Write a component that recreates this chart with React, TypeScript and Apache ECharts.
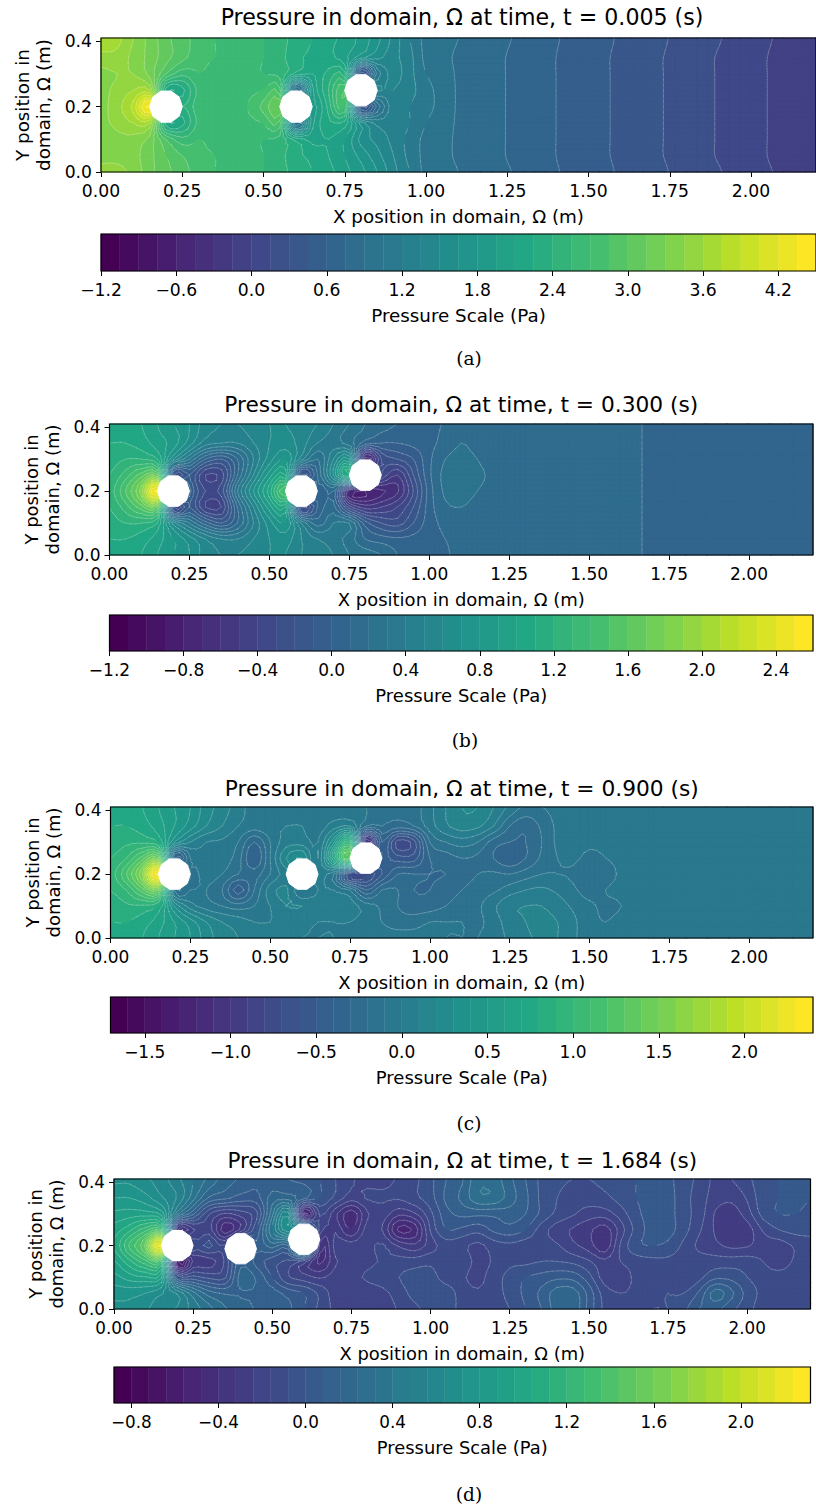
import React, { useEffect, useRef } from "react";
import * as echarts from "echarts";

const X_TICKS = [0, 0.25, 0.5, 0.75, 1, 1.25, 1.5, 1.75, 2];
const Y_TICKS = [0, 0.2, 0.4];
const Y_NODES = [0, 0.05, 0.1, 0.15, 0.2, 0.25, 0.3, 0.35, 0.41];

const X_NODES_A = [0, 0.05, 0.1, 0.15, 0.2, 0.25, 0.3, 0.35, 0.4, 0.45, 0.5, 0.55, 0.6, 0.65, 0.7, 0.75, 0.8, 0.85, 0.9, 0.95, 1, 1.1, 1.2, 1.3, 1.4, 1.5, 1.6, 1.7, 1.8, 1.9, 2, 2.1, 2.2];
const FAR_A = [0.88, 0.79, 0.7, 0.6, 0.51, 0.42, 0.33, 0.23, 0.14, 0.05, -0.05, -0.14];
const FAR_A_EDGE = [0.9, 0.8, 0.72, 0.61, 0.53, 0.43, 0.35, 0.24, 0.16, 0.06, -0.03, -0.13];
const PRESSURE_A = [
  [3.5, 3.5, 3.4, 3.2, 3.05, 2.9, 2.8, 2.7, 2.65, 2.6, 2.55, 2.45, 2.35, 2.25, 2.15, 2.0, 1.85, 1.65, 1.4, 1.2, 1.0, ...FAR_A_EDGE],
  [3.4, 3.4, 3.35, 3.2, 3.0, 2.85, 2.75, 2.7, 2.65, 2.6, 2.55, 2.45, 2.3, 2.2, 2.1, 1.95, 1.75, 1.55, 1.35, 1.15, 1.0, ...FAR_A],
  [3.35, 3.4, 3.4, 3.25, 2.85, 2.6, 2.7, 2.65, 2.65, 2.6, 2.55, 2.5, 2.2, 2.05, 2.1, 1.95, 1.6, 1.45, 1.3, 1.15, 1.0, ...FAR_A],
  [3.4, 3.5, 3.6, 3.6, 2.2, 2.2, 2.6, 2.65, 2.65, 2.65, 2.7, 2.8, 0.9, 1.9, 2.2, 2.2, 1.6, 1.3, 1.3, 1.2, 1.05, ...FAR_A],
  [3.4, 3.55, 3.8, 4.4, 3.0, 2.4, 2.65, 2.65, 2.65, 2.7, 2.9, 3.15, 2.5, 1.9, 2.3, 2.7, 0.3, 0.8, 1.3, 1.2, 1.1, ...FAR_A],
  [3.4, 3.5, 3.6, 3.6, 2.2, 2.2, 2.6, 2.65, 2.65, 2.65, 2.7, 2.75, 0.7, 1.9, 2.4, 2.85, 2.0, 1.4, 1.35, 1.25, 1.1, ...FAR_A],
  [3.4, 3.45, 3.45, 3.25, 2.85, 2.6, 2.7, 2.65, 2.65, 2.6, 2.55, 2.5, 2.2, 2.1, 2.3, 2.3, 0.2, 1.1, 1.4, 1.25, 1.05, ...FAR_A],
  [3.55, 3.55, 3.4, 3.25, 3.05, 2.9, 2.75, 2.7, 2.65, 2.6, 2.55, 2.45, 2.3, 2.2, 2.15, 2.0, 1.7, 1.55, 1.4, 1.25, 1.0, ...FAR_A],
  [3.7, 3.65, 3.45, 3.25, 3.05, 2.9, 2.8, 2.7, 2.65, 2.6, 2.55, 2.45, 2.35, 2.25, 2.15, 2.05, 1.9, 1.7, 1.45, 1.2, 1.0, ...FAR_A_EDGE],
];

const X_NODES_B = [0, 0.05, 0.1, 0.15, 0.2, 0.25, 0.3, 0.35, 0.4, 0.45, 0.5, 0.55, 0.6, 0.65, 0.7, 0.75, 0.8, 0.85, 0.9, 0.95, 1, 1.05, 1.1, 1.15, 1.2, 1.25, 1.3, 1.4, 1.5, 1.6, 1.65, 1.7, 1.8, 2, 2.2];
const FAR_B = [0.15, 0.15, 0.14, 0.12, 0.05, 0.04, 0.04, 0.04];
const PRESSURE_B = [
  [1.05, 1.05, 1.0, 0.9, 0.8, 0.7, 0.55, 0.5, 0.5, 0.55, 0.6, 0.6, 0.5, 0.45, 0.4, 0.3, 0.25, 0.2, 0.1, 0.05, 0.05, 0.09, 0.12, 0.13, 0.14, 0.15, 0.15, ...FAR_B],
  [1.1, 1.1, 1.05, 0.95, 0.8, 0.65, 0.5, 0.4, 0.4, 0.5, 0.6, 0.65, 0.5, 0.4, 0.35, 0.25, 0.1, 0.05, 0.02, 0.03, 0.06, 0.1, 0.13, 0.14, 0.15, 0.15, 0.15, ...FAR_B],
  [1.15, 1.2, 1.2, 1.1, 0.55, 0.3, 0.05, -0.1, 0.1, 0.4, 0.65, 0.8, 0.4, 0.15, 0.3, 0.3, -0.05, -0.2, -0.25, -0.1, 0.05, 0.13, 0.16, 0.16, 0.16, 0.15, 0.15, ...FAR_B],
  [1.2, 1.35, 1.55, 1.6, -0.3, -0.1, -0.4, -0.4, 0.1, 0.5, 0.85, 1.0, -0.3, 0.0, 0.15, -0.35, -0.55, -0.5, -0.4, -0.2, 0.05, 0.18, 0.2, 0.17, 0.16, 0.15, 0.15, ...FAR_B],
  [1.25, 1.5, 1.85, 2.55, 1.0, 0.05, -0.3, -0.25, 0.3, 0.7, 1.05, 1.5, 1.0, 0.05, 0.1, -0.7, -0.8, -0.72, -0.62, -0.3, 0.05, 0.22, 0.24, 0.2, 0.17, 0.15, 0.15, ...FAR_B],
  [1.2, 1.35, 1.55, 1.6, -0.2, -0.1, -0.4, -0.35, 0.1, 0.5, 0.85, 1.0, -0.2, 0.1, 0.6, 1.1, 0.0, -0.3, -0.5, -0.2, 0.08, 0.23, 0.25, 0.22, 0.18, 0.15, 0.15, ...FAR_B],
  [1.15, 1.2, 1.2, 1.1, 0.6, 0.3, 0.0, -0.1, 0.1, 0.4, 0.65, 0.8, 0.45, 0.2, 0.5, 0.7, -0.75, -0.3, -0.2, -0.1, 0.08, 0.2, 0.23, 0.2, 0.16, 0.15, 0.15, ...FAR_B],
  [1.1, 1.1, 1.05, 0.95, 0.85, 0.65, 0.45, 0.4, 0.4, 0.5, 0.6, 0.65, 0.55, 0.4, 0.35, 0.25, 0.05, 0.0, 0.0, 0.03, 0.07, 0.14, 0.2, 0.17, 0.16, 0.15, 0.15, ...FAR_B],
  [1.05, 1.05, 1.0, 0.9, 0.8, 0.7, 0.55, 0.5, 0.5, 0.55, 0.6, 0.6, 0.55, 0.5, 0.4, 0.3, 0.2, 0.15, 0.1, 0.08, 0.08, 0.11, 0.17, 0.15, 0.14, 0.14, 0.14, ...FAR_B],
];

const X_NODES_C = [0, 0.05, 0.1, 0.15, 0.2, 0.25, 0.3, 0.35, 0.4, 0.45, 0.5, 0.55, 0.6, 0.65, 0.7, 0.75, 0.8, 0.85, 0.9, 0.95, 1, 1.05, 1.1, 1.15, 1.2, 1.25, 1.3, 1.35, 1.4, 1.45, 1.5, 1.55, 1.6, 1.65, 1.7, 1.8, 2, 2.2];
const PRESSURE_C = [
  [0.75, 0.75, 0.7, 0.6, 0.5, 0.4, 0.25, 0.15, 0.1, 0.05, 0.05, 0.02, 0.0, 0.0, 0.0, -0.05, -0.05, -0.05, -0.05, -0.05, -0.05, -0.1, -0.1, -0.1, -0.05, 0.02, 0.08, 0.12, 0.1, 0.02, -0.07, -0.09, -0.07, -0.05, -0.05, -0.05, -0.05, -0.05],
  [0.8, 0.8, 0.75, 0.65, 0.5, 0.35, 0.2, 0.1, 0.05, 0.0, 0.0, 0.02, 0.02, 0.0, 0.0, 0.0, -0.05, -0.1, -0.15, -0.15, -0.1, -0.1, -0.1, -0.12, -0.05, 0.05, 0.1, 0.13, 0.1, 0.02, -0.07, -0.1, -0.07, -0.05, -0.05, -0.05, -0.05, -0.05],
  [0.85, 0.88, 0.88, 0.8, 0.3, 0.05, -0.05, -0.1, -0.15, -0.1, 0.0, 0.1, 0.1, 0.05, 0.05, 0.05, -0.05, -0.12, -0.2, -0.25, -0.25, -0.2, -0.15, -0.12, -0.02, 0.08, 0.1, 0.1, 0.05, -0.02, -0.08, -0.12, -0.1, -0.05, -0.05, -0.05, -0.05, -0.05],
  [0.9, 1.0, 1.25, 1.4, -0.1, -0.1, -0.1, -0.2, -0.45, -0.2, 0.05, 0.12, -0.1, 0.0, 0.0, -0.1, -0.4, -0.2, -0.2, -0.3, -0.3, -0.25, -0.2, -0.15, -0.12, -0.05, 0.0, 0.02, -0.02, -0.08, -0.15, -0.1, -0.07, -0.05, -0.05, -0.05, -0.05, -0.05],
  [0.95, 1.2, 1.6, 2.35, 0.5, -0.1, -0.05, -0.1, -0.2, -0.25, -0.1, 0.05, 0.1, 0.05, -0.1, -0.7, -0.7, -0.5, -0.3, -0.3, -0.3, -0.3, -0.25, -0.2, -0.18, -0.2, -0.15, -0.1, -0.1, -0.12, -0.2, -0.15, -0.08, -0.05, -0.05, -0.05, -0.05, -0.05],
  [0.9, 1.0, 1.25, 1.4, -0.4, -0.1, 0.0, -0.05, -0.15, -0.4, -0.1, 0.2, 0.3, 0.0, 0.7, 1.3, 0.0, -0.4, -0.55, -0.55, -0.3, -0.25, -0.2, -0.22, -0.3, -0.38, -0.3, -0.18, -0.1, -0.08, -0.13, -0.1, -0.07, -0.05, -0.05, -0.05, -0.05, -0.05],
  [0.85, 0.88, 0.88, 0.8, 0.3, 0.1, 0.0, -0.02, -0.1, -0.3, -0.1, 0.05, 0.05, 0.0, 0.4, 0.9, -1.1, -0.4, -0.75, -0.65, -0.2, -0.1, -0.05, -0.1, -0.25, -0.3, -0.3, -0.2, -0.08, -0.07, -0.08, -0.08, -0.06, -0.05, -0.05, -0.05, -0.05, -0.05],
  [0.8, 0.8, 0.75, 0.65, 0.5, 0.35, 0.2, 0.1, 0.0, -0.05, -0.02, 0.0, 0.0, -0.05, 0.05, 0.1, -0.2, -0.2, -0.25, -0.2, -0.05, 0.08, 0.15, 0.12, 0.0, -0.2, -0.28, -0.18, -0.08, -0.07, -0.07, -0.07, -0.06, -0.05, -0.05, -0.05, -0.05, -0.05],
  [0.75, 0.75, 0.7, 0.6, 0.5, 0.4, 0.25, 0.15, 0.05, -0.05, -0.05, -0.05, -0.05, -0.05, -0.05, -0.05, -0.1, -0.15, -0.2, -0.15, -0.03, 0.1, 0.2, 0.2, 0.1, -0.02, -0.12, -0.1, -0.07, -0.06, -0.05, -0.05, -0.05, -0.05, -0.05, -0.05, -0.05, -0.05],
];

const X_NODES_D = [0, 0.05, 0.1, 0.15, 0.2, 0.25, 0.3, 0.35, 0.4, 0.45, 0.5, 0.55, 0.6, 0.65, 0.7, 0.75, 0.8, 0.85, 0.9, 0.95, 1, 1.05, 1.1, 1.15, 1.2, 1.25, 1.3, 1.35, 1.4, 1.45, 1.5, 1.55, 1.6, 1.65, 1.7, 1.75, 1.8, 1.85, 1.9, 1.95, 2, 2.05, 2.1, 2.15, 2.2];
const PRESSURE_D = [
  [0.7, 0.7, 0.65, 0.6, 0.55, 0.45, 0.35, 0.25, 0.2, 0.15, 0.12, 0.1, 0.0, -0.1, -0.18, -0.2, -0.2, -0.2, -0.15, -0.1, -0.05, -0.05, -0.1, -0.12, -0.12, -0.08, 0.0, 0.08, 0.2, 0.22, 0.05, -0.1, -0.15, -0.12, -0.08, -0.08, -0.02, 0.08, 0.1, 0.02, -0.05, -0.12, -0.12, -0.1, -0.1],
  [0.75, 0.75, 0.72, 0.65, 0.55, 0.35, 0.2, 0.15, 0.15, 0.15, 0.12, 0.05, 0.0, -0.1, -0.2, -0.2, -0.2, -0.18, -0.12, -0.05, -0.02, -0.03, -0.12, -0.15, -0.12, -0.05, 0.02, 0.1, 0.2, 0.2, 0.05, -0.12, -0.16, -0.14, -0.1, -0.08, -0.08, 0.02, 0.2, 0.1, -0.03, -0.1, -0.12, -0.12, -0.1],
  [0.85, 0.92, 0.95, 0.9, 0.0, -0.05, -0.1, -0.1, 0.2, 0.15, 0.0, -0.15, -0.2, -0.25, -0.2, -0.18, -0.15, -0.12, -0.08, -0.05, -0.05, -0.12, -0.15, -0.18, -0.12, -0.05, 0.0, 0.03, 0.06, 0.05, -0.05, -0.2, -0.2, -0.14, -0.1, -0.12, -0.16, -0.1, -0.02, -0.03, -0.08, -0.12, -0.13, -0.12, -0.12],
  [0.95, 1.1, 1.25, 1.25, -0.55, -0.3, -0.28, -0.15, 0.15, 0.05, -0.05, -0.1, -0.2, -0.42, -0.25, -0.2, -0.18, -0.15, -0.13, -0.12, -0.1, -0.12, -0.12, -0.18, -0.15, -0.1, -0.1, -0.08, -0.08, -0.1, -0.15, -0.22, -0.16, -0.12, -0.1, -0.1, -0.12, -0.12, -0.12, -0.12, -0.12, -0.16, -0.2, -0.15, -0.13],
  [1.05, 1.3, 1.55, 2.2, 0.5, -0.1, -0.05, -0.15, 0.3, 0.1, 0.2, 0.15, 0.9, -0.35, -0.2, -0.2, -0.18, -0.15, -0.25, -0.3, -0.2, -0.12, -0.14, -0.18, -0.12, -0.1, -0.12, -0.12, -0.15, -0.22, -0.28, -0.38, -0.15, -0.02, 0.0, -0.02, -0.1, -0.18, -0.22, -0.26, -0.25, -0.2, -0.2, -0.15, -0.12],
  [1.0, 1.1, 1.25, 1.25, -0.3, -0.25, -0.2, -0.45, -0.3, 0.0, 0.4, 0.7, 0.5, -0.2, -0.25, -0.4, -0.2, -0.25, -0.5, -0.45, -0.15, 0.0, -0.02, -0.05, 0.02, 0.05, 0.0, -0.12, -0.2, -0.25, -0.3, -0.36, -0.2, -0.05, 0.03, 0.03, -0.05, -0.15, -0.25, -0.3, -0.28, -0.15, -0.08, -0.05, -0.05],
  [0.9, 0.92, 0.92, 0.85, 0.35, 0.1, -0.15, -0.25, -0.2, -0.1, 0.3, 0.6, -0.5, -0.15, -0.3, -0.45, -0.25, -0.2, -0.3, -0.25, -0.1, 0.05, 0.1, 0.1, 0.1, 0.12, 0.08, -0.02, -0.1, -0.15, -0.2, -0.2, -0.12, -0.02, 0.03, 0.03, -0.05, -0.12, -0.25, -0.28, -0.2, -0.05, 0.0, 0.0, -0.02],
  [0.8, 0.8, 0.75, 0.65, 0.55, 0.35, 0.15, 0.1, 0.05, 0.05, 0.2, 0.2, 0.1, 0.0, -0.1, -0.2, -0.15, -0.15, -0.15, -0.1, -0.03, 0.1, 0.18, 0.3, 0.3, 0.2, 0.1, -0.02, -0.08, -0.12, -0.12, -0.1, -0.05, 0.0, 0.03, 0.03, -0.05, -0.12, -0.2, -0.22, -0.15, -0.03, 0.0, 0.02, 0.0],
  [0.7, 0.7, 0.65, 0.6, 0.5, 0.4, 0.3, 0.2, 0.15, 0.1, 0.1, 0.08, 0.05, 0.0, -0.08, -0.15, -0.18, -0.18, -0.15, -0.1, -0.02, 0.08, 0.15, 0.3, 0.28, 0.18, 0.08, -0.02, -0.06, -0.08, -0.08, -0.06, -0.03, 0.0, 0.02, 0.02, -0.05, -0.1, -0.18, -0.16, -0.1, -0.03, 0.0, 0.02, 0.0],
];

const TICKS_A = [-1.2, -0.6, 0, 0.6, 1.2, 1.8, 2.4, 3.0, 3.6, 4.2];
const TICKS_B = [-1.2, -0.8, -0.4, 0, 0.4, 0.8, 1.2, 1.6, 2.0, 2.4];
const TICKS_C = [-1.5, -1.0, -0.5, 0, 0.5, 1.0, 1.5, 2.0];
const TICKS_D = [-0.8, -0.4, 0, 0.4, 0.8, 1.2, 1.6, 2.0];

const CYL_ABC = [[0.2, 0.2], [0.6, 0.2], [0.8, 0.25]];
const CYL_D = [[0.2, 0.2], [0.4, 0.19], [0.6, 0.22]];
const CYL_R = 0.05;

const VIRIDIS = ["#440154", "#482475", "#414487", "#355f8d", "#2a788e", "#21918c", "#22a884", "#44bf70", "#7ad151", "#bddf26", "#fde725"];

const PANELS = [
  { name: "a", time: "0.005", xs: X_NODES_A, p: PRESSURE_A, cyl: CYL_ABC, ticks: TICKS_A, lmin: -1.2, lstep: 0.15, ln: 38, left: 101, width: 722, top: 38, h: 134, barTop: 234, barH: 37, titleY: 17, capX: 469, capY: 358, tf: 22.1, f: 17.2, nf: 18.3 },
  { name: "b", time: "0.300", xs: X_NODES_B, p: PRESSURE_B, cyl: CYL_ABC, ticks: TICKS_B, lmin: -1.2, lstep: 0.1, ln: 38, left: 109.5, width: 703.5, top: 424, h: 131, barTop: 615, barH: 36, titleY: 404, capX: 465, capY: 740, tf: 21.7, f: 17, nf: 18 },
  { name: "c", time: "0.900", xs: X_NODES_C, p: PRESSURE_C, cyl: CYL_ABC, ticks: TICKS_C, lmin: -1.7, lstep: 0.1, ln: 41, left: 110.5, width: 702.5, top: 807, h: 131, barTop: 997, barH: 36, titleY: 788, capX: 469, capY: 1123, tf: 21.7, f: 17, nf: 18 },
  { name: "d", time: "1.684", xs: X_NODES_D, p: PRESSURE_D, cyl: CYL_D, ticks: TICKS_D, lmin: -0.88, lstep: 0.08, ln: 40, left: 114, width: 696.5, top: 1179, h: 130, barTop: 1367, barH: 36, titleY: 1160, capX: 469, capY: 1494, tf: 21.5, f: 16.8, nf: 17.9 },
];

const FONT = "DejaVu Sans";
const SUB = 3;

function hexRgb(h: string) {
  return [1, 3, 5].map((i) => parseInt(h.slice(i, i + 2), 16));
}
function viridis(t: number) {
  const s = Math.min(0.9999, Math.max(0, t)) * (VIRIDIS.length - 1);
  const i = Math.floor(s);
  const a = hexRgb(VIRIDIS[i]);
  const b = hexRgb(VIRIDIS[i + 1]);
  const c = a.map((v, k) => Math.round(v + (b[k] - v) * (s - i)));
  return `rgb(${c[0]},${c[1]},${c[2]})`;
}
function cr(a: number, b: number, c: number, d: number, t: number) {
  return 0.5 * (2 * b + (c - a) * t + (2 * a - 5 * b + 4 * c - d) * t * t + (3 * b - a - 3 * c + d) * t * t * t);
}
function smooth(line: number[]) {
  const out: number[] = [];
  const n = line.length;
  for (let i = 0; i < n - 1; i++) {
    for (let k = 0; k < SUB; k++) {
      out.push(cr(line[Math.max(0, i - 1)], line[i], line[i + 1], line[Math.min(n - 1, i + 2)], k / SUB));
    }
  }
  out.push(line[n - 1]);
  return out;
}
function linear(line: number[]) {
  const out: number[] = [];
  for (let i = 0; i < line.length - 1; i++) {
    for (let k = 0; k < SUB; k++) out.push(line[i] + ((line[i + 1] - line[i]) * k) / SUB);
  }
  out.push(line[line.length - 1]);
  return out;
}
type V = [number, number, number];
function clip(poly: V[], level: number, keepAbove: boolean) {
  const out: V[] = [];
  for (let i = 0; i < poly.length; i++) {
    const a = poly[i];
    const b = poly[(i + 1) % poly.length];
    const ia = keepAbove ? a[2] >= level : a[2] <= level;
    const ib = keepAbove ? b[2] >= level : b[2] <= level;
    if (ia) out.push(a);
    if (ia !== ib) {
      const t = (level - a[2]) / (b[2] - a[2]);
      out.push([a[0] + (b[0] - a[0]) * t, a[1] + (b[1] - a[1]) * t, level]);
    }
  }
  return out;
}
function buildField(panel: any) {
  const rows = panel.p.map((r: number[]) => smooth(panel.xs.map((_: number, i: number) => r[i] ?? r[r.length - 1])));
  const nCols = rows[0].length;
  const cols: number[][] = [];
  for (let c = 0; c < nCols; c++) cols.push(smooth(rows.map((r: number[]) => r[c])));
  const xs = linear(panel.xs);
  const ys = linear(Y_NODES);
  const tris: V[][] = [];
  for (let i = 0; i < xs.length - 1; i++) {
    for (let j = 0; j < ys.length - 1; j++) {
      const a: V = [xs[i], ys[j], cols[i][j]];
      const b: V = [xs[i + 1], ys[j], cols[i + 1][j]];
      const c: V = [xs[i + 1], ys[j + 1], cols[i + 1][j + 1]];
      const d: V = [xs[i], ys[j + 1], cols[i][j + 1]];
      tris.push([a, b, c], [a, c, d]);
    }
  }
  const levels: number[] = [];
  for (let k = 0; k <= panel.ln; k++) levels.push(panel.lmin + panel.lstep * k);
  const bands: V[][][] = levels.slice(0, -1).map(() => []);
  const lines: number[][][] = levels.map(() => []);
  for (const t of tris) {
    const vals = t.map((p) => p[2]);
    const mn = Math.min(...vals);
    const mx = Math.max(...vals);
    for (let b = 0; b < bands.length; b++) {
      const lo = b === 0 ? -Infinity : levels[b];
      const hi = b === bands.length - 1 ? Infinity : levels[b + 1];
      if (mx < lo || mn > hi) continue;
      let poly: V[] = t;
      if (lo !== -Infinity) poly = clip(poly, lo, true);
      if (poly.length && hi !== Infinity) poly = clip(poly, hi, false);
      if (poly.length >= 3) bands[b].push(poly);
    }
    for (let l = 1; l < levels.length - 1; l++) {
      const L = levels[l];
      if (mx <= L || mn >= L) continue;
      const seg: number[] = [];
      for (let i = 0; i < 3; i++) {
        const a = t[i];
        const b = t[(i + 1) % 3];
        if ((a[2] - L) * (b[2] - L) < 0) {
          const s = (L - a[2]) / (b[2] - a[2]);
          seg.push(a[0] + (b[0] - a[0]) * s, a[1] + (b[1] - a[1]) * s);
        }
      }
      if (seg.length === 4) lines[l].push(seg);
    }
  }
  return { levels, bands, lines };
}

function buildOption() {
  const grid: any[] = [];
  const xAxis: any[] = [];
  const yAxis: any[] = [];
  const series: any[] = [];
  const title: any[] = [];
  PANELS.forEach((panel, idx) => {
    const { levels, bands, lines } = buildField(panel);
    const mainI = idx * 2;
    const barI = idx * 2 + 1;
    const border = { show: true, borderColor: "#000", borderWidth: 1.2, backgroundColor: "transparent", z: 10 };
    grid.push({ ...border, left: panel.left, top: panel.top, width: panel.width, height: panel.h });
    grid.push({ ...border, left: panel.left, top: panel.barTop, width: panel.width, height: panel.barH });
    const labelStyle = { color: "#000", fontFamily: FONT, fontSize: panel.f };
    const nameStyle = { color: "#000", fontFamily: FONT, fontSize: panel.nf, lineHeight: 21 };
    const tick = { show: true, length: 5, lineStyle: { color: "#000", width: 1 } };
    xAxis.push({
      type: "value", gridIndex: mainI, min: 0, max: 2.2, splitLine: { show: false }, axisLine: { show: false },
      axisTick: { ...tick, customValues: X_TICKS },
      axisLabel: { ...labelStyle, margin: 10, customValues: X_TICKS, formatter: (v: number) => v.toFixed(2) },
      name: "X position in domain, Ω (m)", nameLocation: "middle", nameGap: 34, nameTextStyle: nameStyle,
    });
    yAxis.push({
      type: "value", gridIndex: mainI, min: 0, max: 0.41, splitLine: { show: false }, axisLine: { show: false },
      axisTick: { ...tick, customValues: Y_TICKS },
      axisLabel: { ...labelStyle, margin: 9, customValues: Y_TICKS, formatter: (v: number) => v.toFixed(1) },
      name: "Y position in\ndomain, Ω (m)", nameLocation: "middle", nameGap: 47, nameTextStyle: nameStyle,
    });
    xAxis.push({
      type: "value", gridIndex: barI, min: levels[0], max: levels[levels.length - 1], splitLine: { show: false }, axisLine: { show: false },
      axisTick: { ...tick, customValues: panel.ticks },
      axisLabel: { ...labelStyle, margin: 10, customValues: panel.ticks, formatter: (v: number) => v.toFixed(1).replace("-", "\u2212") },
      name: "Pressure Scale (Pa)", nameLocation: "middle", nameGap: 34, nameTextStyle: nameStyle,
    });
    yAxis.push({ type: "value", gridIndex: barI, min: 0, max: 1, show: false });

    const colorOf = (b: number) => viridis(b / (bands.length - 1));
    series.push({
      type: "custom", xAxisIndex: mainI, yAxisIndex: mainI, coordinateSystem: "cartesian2d", silent: true,
      data: bands.map((_, b) => [0, 0, b]),
      renderItem: (_p: any, api: any) => {
        const b = api.value(2);
        let d = "";
        for (const poly of bands[b]) {
          poly.forEach((pt: V, i: number) => {
            const c = api.coord([pt[0], pt[1]]);
            d += `${i ? "L" : "M"}${c[0].toFixed(2)} ${c[1].toFixed(2)}`;
          });
          d += "Z";
        }
        if (!d) return null;
        return { type: "path", shape: { pathData: d }, style: { fill: colorOf(b), stroke: colorOf(b), lineWidth: 1 } };
      },
    });
    series.push({
      type: "custom", xAxisIndex: mainI, yAxisIndex: mainI, coordinateSystem: "cartesian2d", silent: true,
      data: lines.map((_, l) => [0, 0, l]),
      renderItem: (_p: any, api: any) => {
        const l = api.value(2);
        let d = "";
        for (const s of lines[l]) {
          const a = api.coord([s[0], s[1]]);
          const b = api.coord([s[2], s[3]]);
          d += `M${a[0].toFixed(2)} ${a[1].toFixed(2)}L${b[0].toFixed(2)} ${b[1].toFixed(2)}`;
        }
        if (!d) return null;
        return { type: "path", shape: { pathData: d }, style: { fill: "none", stroke: "rgba(255,255,255,0.36)", lineWidth: 0.55, lineCap: "round" } };
      },
    });
    series.push({
      type: "custom", xAxisIndex: mainI, yAxisIndex: mainI, coordinateSystem: "cartesian2d", silent: true,
      data: panel.cyl,
      renderItem: (_p: any, api: any) => {
        const cx = api.value(0);
        const cy = api.value(1);
        const points: number[][] = [];
        for (let k = 0; k < 10; k++) {
          const a = (k / 10) * Math.PI * 2;
          points.push(api.coord([cx + CYL_R * Math.cos(a), cy + CYL_R * Math.sin(a)]));
        }
        return { type: "polygon", shape: { points }, style: { fill: "#fff", stroke: "#fff", lineWidth: 1 } };
      },
    });
    series.push({
      type: "custom", xAxisIndex: barI, yAxisIndex: barI, coordinateSystem: "cartesian2d", silent: true,
      data: levels.slice(0, -1).map((l, b) => [l, levels[b + 1], b]),
      renderItem: (_p: any, api: any) => {
        const a = api.coord([api.value(0), 1]);
        const e = api.coord([api.value(1), 0]);
        const c = colorOf(api.value(2));
        return { type: "rect", shape: { x: a[0], y: a[1], width: e[0] - a[0], height: e[1] - a[1] }, style: { fill: c, stroke: c, lineWidth: 0.4 } };
      },
    });
    title.push({
      text: `Pressure in domain, Ω at time, t = ${panel.time} (s)`,
      left: panel.left + panel.width / 2, top: panel.titleY, textAlign: "center", textVerticalAlign: "middle", padding: 0,
      textStyle: { color: "#000", fontFamily: FONT, fontSize: panel.tf, fontWeight: "normal" },
    });
    title.push({
      text: `(${panel.name})`,
      left: panel.capX, top: panel.capY, textAlign: "center", textVerticalAlign: "middle", padding: 0,
      textStyle: { color: "#000", fontFamily: "DejaVu Serif", fontSize: 18.5, fontWeight: "normal" },
    });
  });
  return { animation: false, backgroundColor: "#fff", title, grid, xAxis, yAxis, series };
}

export default function App() {
  const ref = useRef<HTMLDivElement>(null);
  useEffect(() => {
    document.body.style.margin = "0";
    const chart = echarts.init(ref.current as HTMLDivElement, undefined, { renderer: "svg" });
    chart.setOption(buildOption() as any);
    return () => chart.dispose();
  }, []);
  return <div ref={ref} style={{ width: 816, height: 1506 }} />;
}
